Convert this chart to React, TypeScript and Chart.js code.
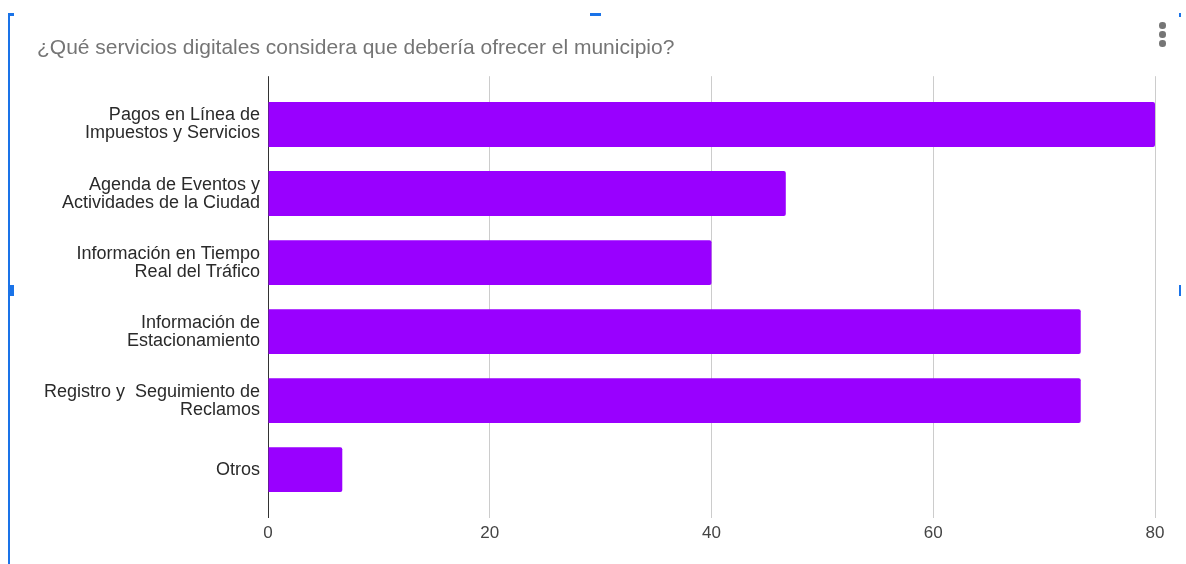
import React, { useEffect, useRef } from "react";
import { Chart, registerables } from "chart.js";

Chart.register(...registerables);

const titleText = "¿Qué servicios digitales considera que debería ofrecer el municipio?";
const categories: string[][] = [
  ["Pagos en Línea de", "Impuestos y Servicios"],
  ["Agenda de Eventos y", "Actividades de la Ciudad"],
  ["Información en Tiempo", "Real del Tráfico"],
  ["Información de", "Estacionamiento"],
  ["Registro y  Seguimiento de", "Reclamos"],
  ["Otros"],
];
const values: number[] = [80, 46.7, 40, 73.3, 73.3, 6.7];
const xTicks: number[] = [0, 20, 40, 60, 80];

const FONT = "'Liberation Sans', Arial, sans-serif";

export default function App() {
  const ref = useRef<HTMLCanvasElement | null>(null);

  useEffect(() => {
    if (!ref.current) return;
    const chart = new Chart(ref.current, {
      type: "bar",
      data: {
        datasets: [
          {
            data: values.map((v, i) => ({ x: v, y: i })),
            backgroundColor: "#9900ff",
            borderRadius: 2,
            borderSkipped: "start",
            categoryPercentage: 1,
            barPercentage: 0.65,
          },
        ],
      },
      options: {
        indexAxis: "y",
        animation: false,
        responsive: false,
        devicePixelRatio: 1,
        layout: { padding: { left: 37, right: 31, top: 0, bottom: 0 } },
        plugins: {
          legend: { display: false },
          tooltip: { enabled: false },
          title: {
            display: true,
            text: titleText,
            align: "start",
            color: "#757575",
            font: { family: FONT, size: 21, weight: "normal" },
            padding: { top: 36, bottom: 15 },
          },
        },
        scales: {
          x: {
            type: "linear",
            min: 0,
            max: 80,
            afterBuildTicks: (scale: any) => {
              scale.ticks = xTicks.map((v) => ({ value: v }));
            },
            grid: {
              color: (ctx: any) => (ctx.tick && ctx.tick.value === 0 ? "#333333" : "#cccccc"),
              drawTicks: false,
              lineWidth: 1,
            },
            border: { display: false },
            ticks: {
              color: "#444444",
              font: { family: FONT, size: 17 },
              padding: 5,
            },
            afterFit: (scale: any) => {
              scale.height = 46;
            },
          },
          y: {
            type: "linear",
            offset: false,
            min: -0.7,
            max: 5.7,
            reverse: true,
            afterBuildTicks: (scale: any) => {
              scale.ticks = categories.map((_, i) => ({ value: i }));
            },
            grid: { display: false, drawTicks: false },
            border: { display: false },
            ticks: {
              color: "#2a2a2a",
              font: { family: FONT, size: 18, lineHeight: 1.0 },
              padding: 8,
              callback: (v: any) => categories[Math.round(Number(v))] ?? "",
            },
            afterFit: (scale: any) => {
              scale.width = 231;
            },
          },
        },
      },
    } as any);
    return () => chart.destroy();
  }, []);

  const blue = "#1a73e8";
  return (
    <div style={{ position: "absolute", left: 0, top: 0, width: 1186, height: 564, background: "#fff", overflow: "hidden" }}>
      <canvas ref={ref} width={1186} height={564} style={{ position: "absolute", left: 0, top: 0, width: 1186, height: 564 }} />
      <div style={{ position: "absolute", left: 8, top: 15, width: 2, height: 549, background: blue }} />
      <div style={{ position: "absolute", left: 8, top: 13, width: 6, height: 3, background: blue }} />
      <div style={{ position: "absolute", left: 590, top: 13, width: 11, height: 3, background: blue }} />
      <div style={{ position: "absolute", left: 8, top: 285, width: 6, height: 11, background: blue }} />
      <div style={{ position: "absolute", left: 1179, top: 285, width: 2, height: 11, background: blue }} />
      <div style={{ position: "absolute", left: 1179, top: 13, width: 2, height: 4, background: blue }} />
      {[25, 34, 43].map((y) => (
        <div key={y} style={{ position: "absolute", left: 1159, top: y - 3, width: 6.5, height: 6.5, borderRadius: "50%", background: "#757575" }} />
      ))}
    </div>
  );
}
